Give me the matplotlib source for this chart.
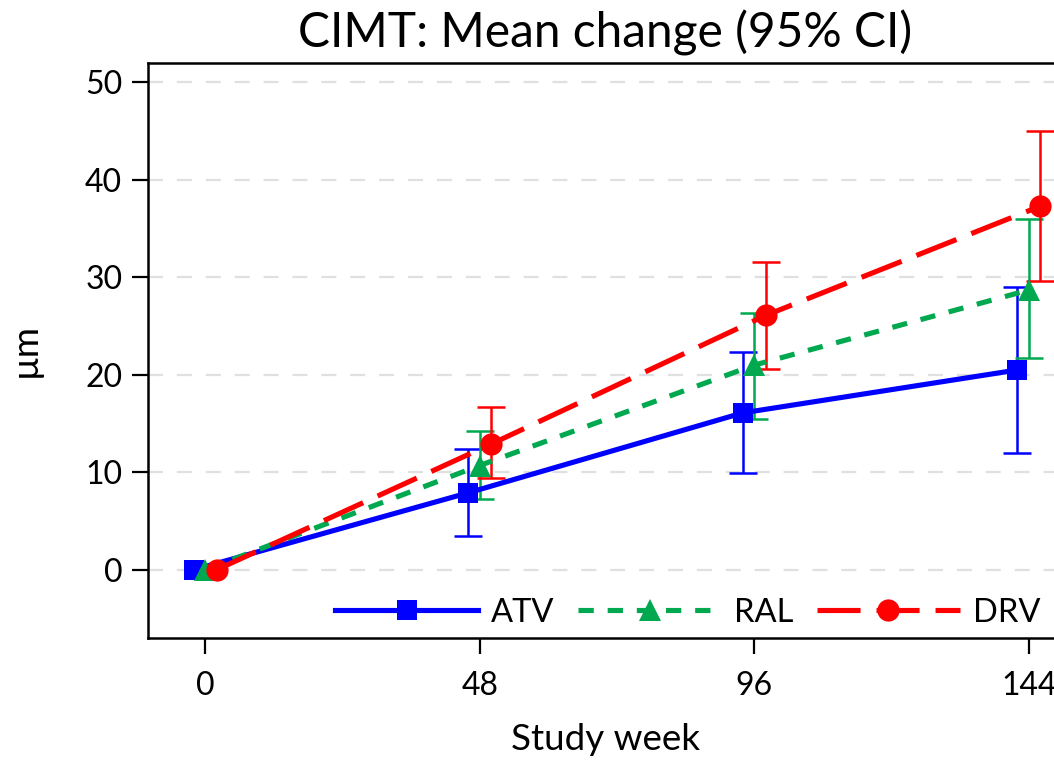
import matplotlib
matplotlib.use('Agg')
import matplotlib.pyplot as plt
import numpy as np

nan = np.nan
weeks = [0, 48, 96, 144]
groups = ['ATV', 'RAL', 'DRV']

atv_mean = [0, 7.9, 16.1, 20.5]
atv_lo = [nan, 3.5, 9.9, 12.0]
atv_hi = [nan, 12.4, 22.3, 29.0]

ral_mean = [0, 10.7, 21.0, 28.7]
ral_lo = [nan, 7.3, 15.5, 21.7]
ral_hi = [nan, 14.2, 26.3, 36.0]

drv_mean = [0, 12.9, 26.1, 37.3]
drv_lo = [nan, 9.4, 20.6, 29.6]
drv_hi = [nan, 16.7, 31.6, 45.0]

x_ticks = [0, 48, 96, 144]
y_ticks = [0, 10, 20, 30, 40, 50]

plt.rcParams['font.family'] = ['Lato', 'DejaVu Sans']
plt.rcParams['lines.scale_dashes'] = False

W, H = 1054, 766
fig = plt.figure(figsize=(W / 100, H / 100), dpi=100)
ax = fig.add_axes([148 / W, 128 / H, (1063 - 148) / W, (703 - 128) / H])

LW = 3.7
series = [
    (atv_mean, atv_lo, atv_hi, '#0000FF', 's', 15, None, -2),
    (ral_mean, ral_lo, ral_hi, '#00A84F', '^', 16, (11.0, 10.0), 0),
    (drv_mean, drv_lo, drv_hi, '#FF0000', 'o', 16, (31.0, 11.5), 2),
]

handles = []
for (m, lo, hi, col, mk, ms, dash, off), name in zip(series, groups):
    xs = np.array(weeks, dtype=float) + off
    m = np.array(m)
    lo = np.array(lo)
    hi = np.array(hi)
    ax.errorbar(xs, m, yerr=[m - lo, hi - m], fmt='none', ecolor=col,
                elinewidth=1.8, capsize=10.4, capthick=1.8, zorder=2)
    line, = ax.plot(xs, m, color=col, lw=LW, zorder=3)
    if dash:
        line.set_dashes(dash)
    ax.plot(xs, m, linestyle='none', marker=mk, markersize=ms, color=col,
            markeredgewidth=0, zorder=4)
    h, = ax.plot([], [], color=col, lw=LW, marker=mk, markersize=ms,
                 markeredgewidth=0, label=name)
    if dash:
        h.set_dashes(dash)
    handles.append(h)

ax.set_xlim(-10, 150)
ax.set_ylim(-7, 52)
ax.set_xticks(x_ticks)
ax.set_yticks(y_ticks)
ax.tick_params(axis='both', length=11.5, width=1.6, labelsize=23, direction='out')
ax.tick_params(axis='x', pad=12)
ax.tick_params(axis='y', pad=7)
for s in ax.spines.values():
    s.set_linewidth(1.8)

ax.yaxis.grid(True, color='#e0e0e0', lw=1.6, dashes=(10.8, 10))
ax.set_axisbelow(True)

ax.set_title('CIMT: Mean change (95% CI)', fontsize=34.5, pad=11)
ax.set_xlabel('Study week', fontsize=26.5, labelpad=16)
ax.set_ylabel('µm', fontsize=26.5, labelpad=31)

ax.legend(handles=handles, loc='lower right', bbox_to_anchor=(0.99, -0.005),
          ncol=3, frameon=False, fontsize=23.5, numpoints=1,
          handlelength=4.4, handletextpad=0.4, columnspacing=0.7,
          borderaxespad=0.0)

fig.savefig('out.png', dpi=100)
